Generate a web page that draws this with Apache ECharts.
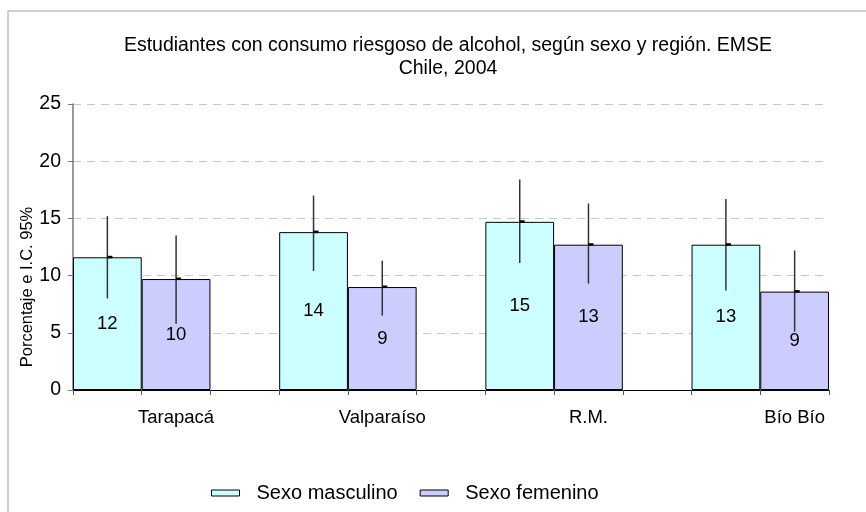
<!DOCTYPE html>
<html>
<head>
<meta charset="utf-8">
<script src="https://cdn.jsdelivr.net/npm/echarts@6/dist/echarts.min.js"></script>
<style>
html, body { margin: 0; padding: 0; background: #fff; }
#chart { width: 866px; height: 512px; }
</style>
</head>
<body>
<div id="chart"></div>
<script>
// regiones y valores (%), con intervalo de confianza 95%
var regiones = ['Tarapacá', 'Valparaíso', 'R.M.', 'Bío Bío'];
var masculino = [11.6, 13.8, 14.7, 12.7];
var masculinoInf = [8.0, 10.4, 11.1, 8.7];
var masculinoSup = [15.2, 17.0, 18.4, 16.7];
var femenino = [9.7, 9.0, 12.7, 8.6];
var femeninoInf = [5.8, 6.5, 9.3, 5.1];
var femeninoSup = [13.5, 11.3, 16.3, 12.2];
var yTicks = [0, 5, 10, 15, 20, 25];

var fuente = 'Liberation Sans, Arial, sans-serif';

// el eje tiene 11 casillas: masc, fem, hueco por region
var casillas = [];
var serieMasc = [];
var serieFem = [];
var errores = [];
for (var i = 0; i < regiones.length; i++) {
	var m = i * 3;
	casillas[m] = '';
	casillas[m + 1] = regiones[i];
	if (i < regiones.length - 1) casillas[m + 2] = '';
	serieMasc[m] = masculino[i];
	serieMasc[m + 1] = '-';
	serieFem[m] = '-';
	serieFem[m + 1] = femenino[i];
	if (i < regiones.length - 1) {
		serieMasc[m + 2] = '-';
		serieFem[m + 2] = '-';
	}
	errores.push([m, masculinoInf[i], masculinoSup[i], masculino[i]]);
	errores.push([m + 1, femeninoInf[i], femeninoSup[i], femenino[i]]);
}

function dibujarError(params, api) {
	var x = api.value(0);
	var bajo = api.coord([x, api.value(1)]);
	var alto = api.coord([x, api.value(2)]);
	var med = api.coord([x, api.value(3)]);
	return {
		type: 'group',
		children: [{
			type: 'line',
			shape: { x1: bajo[0], y1: bajo[1], x2: alto[0], y2: alto[1] },
			style: { stroke: '#333', lineWidth: 1.5 }
		}, {
			type: 'rect',
			shape: { x: med[0], y: med[1] - 1.5, width: 5, height: 2.5 },
			style: { fill: '#000' }
		}]
	};
}

var myChart = echarts.init(document.getElementById('chart'));
var option = {
	backgroundColor: '#fff',
	animation: false,
	title: {
		text: 'Estudiantes con consumo riesgoso de alcohol, según sexo y región. EMSE\nChile, 2004',
		left: 443,
		top: 29,
		textAlign: 'center',
		textStyle: { fontFamily: fuente, fontSize: 19.5, fontWeight: 'normal', color: '#000', lineHeight: 23 }
	},
	graphic: [{
		type: 'rect',
		shape: { x: 8, y: 11, width: 900, height: 600 },
		style: { fill: 'none', stroke: '#c0c0c0', lineWidth: 1.5 },
		silent: true
	}, {
		type: 'text',
		x: 27,
		y: 287,
		rotation: Math.PI / 2,
		style: {
			text: 'Porcentaje e I.C. 95%',
			fontFamily: fuente,
			fontSize: 16.5,
			fill: '#000',
			align: 'center',
			verticalAlign: 'middle'
		}
	}],
	legend: {
		left: 206,
		top: 478,
		itemWidth: 28,
		itemHeight: 6,
		itemGap: 22,
		textStyle: { fontFamily: fuente, fontSize: 20, color: '#000', padding: [0, 0, 0, 12] },
		data: [
			{ name: 'Sexo masculino', icon: 'rect', itemStyle: { color: '#ccffff', borderColor: '#000', borderWidth: 1 } },
			{ name: 'Sexo femenino', icon: 'rect', itemStyle: { color: '#ccccff', borderColor: '#000', borderWidth: 1 } }
		]
	},
	grid: {
		left: 73,
		right: 37,
		top: 104,
		bottom: 122,
		outerBoundsMode: 'none'
	},
	xAxis: {
		type: 'category',
		data: casillas,
		boundaryGap: true,
		axisLine: { lineStyle: { color: '#000', width: 1 } },
		axisTick: { show: true, interval: 0, length: 5, lineStyle: { color: '#555' } },
		axisLabel: { interval: 0, margin: 18, fontFamily: fuente, fontSize: 18.5, color: '#000' },
		splitLine: { show: false }
	},
	yAxis: {
		type: 'value',
		min: yTicks[0],
		max: yTicks[yTicks.length - 1],
		interval: yTicks[1] - yTicks[0],
		axisLine: { show: true, lineStyle: { color: '#777', width: 1.5 } },
		axisTick: { show: true, length: 5, lineStyle: { color: '#777' } },
		axisLabel: { margin: 12, fontFamily: fuente, fontSize: 19.5, color: '#000' },
		splitLine: { show: true, lineStyle: { color: '#c8c8c8', type: [8, 6], width: 1 } }
	},
	series: [{
		name: 'Sexo masculino',
		type: 'bar',
		data: serieMasc,
		barWidth: '100%',
		barGap: '-100%',
		itemStyle: { color: '#ccffff', borderColor: '#000', borderWidth: 1 },
		label: {
			show: true,
			position: 'inside',
			fontFamily: fuente,
			fontSize: 18.5,
			color: '#000',
			formatter: function (p) { return Math.round(p.value); }
		}
	}, {
		name: 'Sexo femenino',
		type: 'bar',
		data: serieFem,
		barWidth: '100%',
		barGap: '-100%',
		itemStyle: { color: '#ccccff', borderColor: '#000', borderWidth: 1 },
		label: {
			show: true,
			position: 'inside',
			fontFamily: fuente,
			fontSize: 18.5,
			color: '#000',
			formatter: function (p) { return Math.round(p.value); }
		}
	}, {
		type: 'custom',
		renderItem: dibujarError,
		data: errores,
		z: 10,
		silent: true
	}]
};
myChart.setOption(option);
</script>
</body>
</html>
